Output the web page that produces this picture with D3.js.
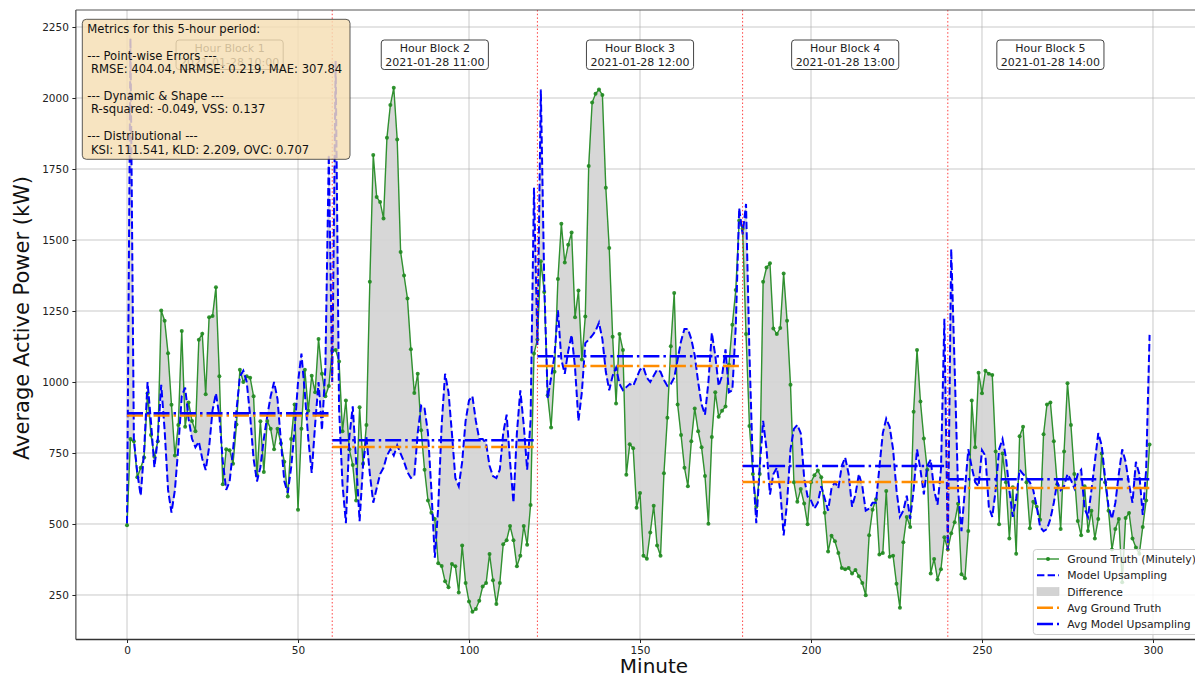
<!DOCTYPE html>
<html><head><meta charset="utf-8">
<script src="https://cdn.jsdelivr.net/npm/d3@7"></script>
<style>
body{margin:0;background:#fff;}
svg{display:block;font-family:"DejaVu Sans",sans-serif;}
</style>
</head><body>
<svg id="chart" width="1195" height="675"></svg>
<script>
// ---------------- data ----------------
const groundTruth = [
496,799,791,665,698,734,960,813,737,791,
1252,1216,1101,920,741,849,1180,842,928,863,
827,1149,1170,957,1228,1232,1334,1020,640,763,
760,712,850,1043,1000,1020,1015,950,672,862,
683,863,835,763,835,784,719,597,799,921,
550,835,1043,899,1022,964,1151,1029,950,986,
1110,1113,1072,827,935,763,708,583,911,712,
849,1353,1799,1651,1634,1576,1860,1975,2036,1854,
1458,1375,1294,1115,961,1029,830,691,583,540,
518,362,352,298,277,359,351,259,424,292,
227,191,201,230,280,292,394,302,218,292,
429,443,493,443,351,388,493,427,567,1100,
1150,1425,1317,953,840,1036,1363,1557,1421,1483,
1526,1228,1322,1079,1231,1761,1984,2015,2030,2011,
1684,1472,1159,924,1169,1113,673,781,767,557,
609,388,378,470,564,424,388,679,874,1126,
1313,921,813,698,633,791,907,827,770,669,
501,806,964,878,899,914,1061,1202,1324,1569,
1540,1169,845,676,561,676,1353,1403,1418,1188,
1169,1190,1382,1216,990,647,578,623,572,499,
647,672,688,665,540,403,459,439,398,345,
341,345,326,338,316,292,249,460,550,587,
393,398,616,385,388,290,205,436,525,489,
895,1113,931,801,691,326,377,305,341,453,
410,467,506,571,323,309,475,935,770,1033,
960,1040,1029,1025,755,499,748,647,449,629,
395,809,842,647,485,578,561,515,816,921,
928,791,640,482,755,996,849,676,511,460,
633,475,547,449,518,748,647,547,410,482,
518,295,521,539,449,417,395,489,583,780
];
const modelUpsampling = [
503,2210,800,680,600,760,1000,860,700,800,
990,830,620,540,620,770,950,980,870,800,
770,790,730,690,770,900,960,880,720,620,
650,760,900,1020,1040,1000,880,730,650,700,
800,880,950,1000,940,790,650,610,700,830,
1000,1100,960,800,680,850,1000,830,1050,1800,
1000,2130,907,640,503,806,914,719,510,705,
806,676,575,626,676,698,741,763,741,777,
748,719,683,662,669,820,917,907,820,619,
381,561,849,1029,964,820,662,633,719,863,
935,950,863,799,799,784,705,669,662,691,
820,885,720,575,820,971,849,691,863,1684,
1130,2030,1350,943,1015,1094,1252,1079,1029,1108,
1166,1051,863,964,1137,1149,1163,1180,1209,1151,
1036,971,1022,1051,993,971,982,993,986,1015,
1043,1051,1015,1000,1022,1043,1036,1007,986,993,
1015,1079,1144,1187,1187,1151,1094,1000,921,885,
1000,1173,1094,986,1022,1115,964,971,1195,1612,
1520,1627,1100,700,503,700,863,763,604,676,
698,620,460,575,763,835,849,820,662,597,
583,554,575,633,590,547,626,647,626,705,
734,676,561,604,676,633,547,554,575,575,
700,820,871,842,763,619,525,547,600,518,
619,763,691,604,705,727,619,568,691,1223,
410,1468,1051,619,475,620,763,700,647,633,
760,740,560,525,620,763,799,734,619,525,
590,691,676,662,647,619,561,489,475,482,
518,575,647,619,633,676,655,626,676,691,
554,525,619,719,820,777,662,561,518,575,
676,763,719,640,575,719,676,532,691,1166
];
const blockStart = [0, 60, 120, 180, 240];
const blockEnd = [60, 120, 180, 240, 300];
const avgGroundTruth = [882, 771, 1056, 648, 627];
const avgModel = [890, 795, 1091, 704, 658];
const blockTitles = ["Hour Block 1","Hour Block 2","Hour Block 3","Hour Block 4","Hour Block 5"];
const blockTimes = ["2021-01-28 10:00","2021-01-28 11:00","2021-01-28 12:00","2021-01-28 13:00","2021-01-28 14:00"];
const hourBoundaries = [60, 120, 180, 240];
const yTickValues = [250, 500, 750, 1000, 1250, 1500, 1750, 2000, 2250];
const xTickValues = [0, 50, 100, 150, 200, 250, 300];
const metricsLines = [
  "Metrics for this 5-hour period:",
  "",
  "--- Point-wise Errors ---",
  " RMSE: 404.04, NRMSE: 0.219, MAE: 307.84",
  "",
  "--- Dynamic & Shape ---",
  " R-squared: -0.049, VSS: 0.137",
  "",
  "--- Distributional ---",
  " KSI: 111.541, KLD: 2.209, OVC: 0.707"
];
const legendLabels = ["Ground Truth (Minutely)","Model Upsampling","Difference","Avg Ground Truth","Avg Model Upsampling"];

// ---------------- setup ----------------
const svg = d3.select("#chart");
const L = 75.9, R = 1200.7, T = 10, B = 639.5;
const x = d3.scaleLinear().domain([-14.95, 313.95]).range([L, R]);
const y = d3.scaleLinear().domain([93.3, 2309.9]).range([B, T]);
const idx = groundTruth.map((_, i) => i);

svg.append("defs").append("clipPath").attr("id","plotclip")
  .append("rect").attr("x",L).attr("y",T).attr("width",R-L).attr("height",B-T);

// grid
const grid = svg.append("g");
grid.selectAll("line.gx").data(xTickValues).join("line")
  .attr("x1",d=>x(d)).attr("x2",d=>x(d)).attr("y1",T).attr("y2",B)
  .attr("stroke","#b0b0b0").attr("stroke-width",0.9).attr("opacity",0.75);
grid.selectAll("line.gy").data(yTickValues).join("line")
  .attr("x1",L).attr("x2",R).attr("y1",d=>y(d)).attr("y2",d=>y(d))
  .attr("stroke","#b0b0b0").attr("stroke-width",0.9).attr("opacity",0.75);

const plot = svg.append("g").attr("clip-path","url(#plotclip)");

// difference area
const area = d3.area().x(i=>x(i)).y0(i=>y(modelUpsampling[i])).y1(i=>y(groundTruth[i]));
plot.append("path").datum(idx).attr("d",area)
  .attr("fill","#d3d3d3").attr("fill-opacity",0.9)
  .attr("stroke","#c4c4c4").attr("stroke-width",0.5);

// ground truth
const lineGT = d3.line().x(i=>x(i)).y(i=>y(groundTruth[i]));
plot.append("path").datum(idx).attr("d",lineGT)
  .attr("fill","none").attr("stroke","#228B22").attr("stroke-width",1.4).attr("opacity",0.92);
plot.selectAll("circle.gt").data(idx).join("circle")
  .attr("cx",i=>x(i)).attr("cy",i=>y(groundTruth[i])).attr("r",2)
  .attr("fill","#228B22").attr("opacity",0.92);

// model
const lineM = d3.line().x(i=>x(i)).y(i=>y(modelUpsampling[i]));
plot.append("path").datum(idx).attr("d",lineM)
  .attr("fill","none").attr("stroke","#0000ff").attr("stroke-width",2)
  .attr("stroke-dasharray","7.4,3.2");

// averages
const dashdot = "16,4,2.5,4";
blockStart.forEach((s, k) => {
  plot.append("line").attr("x1",x(s)).attr("x2",x(blockEnd[k]))
    .attr("y1",y(avgGroundTruth[k])).attr("y2",y(avgGroundTruth[k]))
    .attr("stroke","#ff8c00").attr("stroke-width",2.5).attr("stroke-dasharray",dashdot);
  plot.append("line").attr("x1",x(s)).attr("x2",x(blockEnd[k]))
    .attr("y1",y(avgModel[k])).attr("y2",y(avgModel[k]))
    .attr("stroke","#0000ff").attr("stroke-width",2.5).attr("stroke-dasharray",dashdot);
});

// hour boundaries
plot.selectAll("line.vb").data(hourBoundaries).join("line")
  .attr("x1",d=>x(d)).attr("x2",d=>x(d)).attr("y1",T).attr("y2",B)
  .attr("stroke","red").attr("stroke-width",1).attr("opacity",0.75)
  .attr("stroke-dasharray","1.5,2.2");

// axes
const yAxis = d3.axisLeft(y).tickValues(yTickValues).tickFormat(d3.format("d"))
  .tickSize(3.5).tickSizeOuter(0).tickPadding(3.5);
const gy = svg.append("g").attr("transform",`translate(${L},0)`).call(yAxis);
const xAxis = d3.axisBottom(x).tickValues(xTickValues).tickFormat(d3.format("d"))
  .tickSize(3.5).tickSizeOuter(0).tickPadding(3.5);
const gx = svg.append("g").attr("transform",`translate(0,${B})`).call(xAxis);
[gx, gy].forEach(g => {
  g.selectAll("text").attr("font-size","10.5px").attr("fill","#222").attr("font-family","DejaVu Sans");
  g.selectAll(".tick line").attr("stroke","#222");
  g.select(".domain").attr("stroke","none");
});
// spines
svg.append("line").attr("x1",L).attr("x2",L).attr("y1",T).attr("y2",B).attr("stroke","#222").attr("stroke-width",1);
svg.append("line").attr("x1",L).attr("x2",R).attr("y1",B).attr("y2",B).attr("stroke","#333").attr("stroke-width",1.6);
svg.append("line").attr("x1",L).attr("x2",R).attr("y1",T).attr("y2",T).attr("stroke","#555").attr("stroke-width",1);
svg.append("line").attr("x1",R).attr("x2",R).attr("y1",T).attr("y2",B).attr("stroke","#222").attr("stroke-width",1);

// axis labels
svg.append("text").attr("x",654).attr("y",673).attr("text-anchor","middle")
  .attr("font-size","20px").attr("fill","#111").text("Minute");
svg.append("text").attr("transform","translate(29,318) rotate(-90)").attr("text-anchor","middle")
  .attr("font-size","21px").attr("fill","#111").text("Average Active Power (kW)");

// hour block labels
blockStart.forEach((s, k) => {
  const cx = x(s + 30);
  const g = svg.append("g");
  const t1 = g.append("text").attr("x",cx).attr("y",52).attr("text-anchor","middle")
    .attr("font-size","11px").attr("fill","#222").text(blockTitles[k]);
  const t2 = g.append("text").attr("x",cx).attr("y",65.5).attr("text-anchor","middle")
    .attr("font-size","11px").attr("fill","#222").text(blockTimes[k]);
  const w = Math.max(t1.node().getComputedTextLength(), t2.node().getComputedTextLength()) + 8;
  g.insert("rect","text").attr("x",cx - w/2).attr("y",40).attr("width",w).attr("height",29.5)
    .attr("rx",3).attr("fill","white").attr("stroke","#444").attr("stroke-width",1);
});

// metrics box
const mb = svg.append("g");
mb.append("rect").attr("x",82.3).attr("y",19.3).attr("width",267.7).attr("height",140)
  .attr("rx",4).attr("fill","#f5deb3").attr("fill-opacity",0.82)
  .attr("stroke","#333").attr("stroke-opacity",0.8).attr("stroke-width",1);
metricsLines.forEach((s, i) => {
  if (!s) return;
  mb.append("text").attr("x",87.3).attr("y",29 + 13.37*i + 4.2)
    .attr("font-size","11.6px").attr("fill","#111").style("white-space","pre").text(s);
});

// legend
const lg = svg.append("g");
lg.append("rect").attr("x",1033.3).attr("y",549.5).attr("width",172).attr("height",85)
  .attr("rx",3).attr("fill","white").attr("fill-opacity",0.8).attr("stroke","#ccc").attr("stroke-width",1);
const ly = [559, 575.3, 591.6, 607.8, 624];
const hx1 = 1037, hx2 = 1059;
lg.append("line").attr("x1",hx1).attr("x2",hx2).attr("y1",ly[0]).attr("y2",ly[0])
  .attr("stroke","#228B22").attr("stroke-width",1.3);
lg.append("circle").attr("cx",(hx1+hx2)/2).attr("cy",ly[0]).attr("r",2).attr("fill","#228B22");
lg.append("line").attr("x1",hx1).attr("x2",hx2).attr("y1",ly[1]).attr("y2",ly[1])
  .attr("stroke","#0000ff").attr("stroke-width",2).attr("stroke-dasharray","7.4,3.2");
lg.append("rect").attr("x",hx1).attr("y",ly[2]-4).attr("width",hx2-hx1).attr("height",8)
  .attr("fill","#d3d3d3").attr("stroke","#c4c4c4").attr("stroke-width",0.5);
lg.append("line").attr("x1",hx1).attr("x2",hx2).attr("y1",ly[3]).attr("y2",ly[3])
  .attr("stroke","#ff8c00").attr("stroke-width",2.5).attr("stroke-dasharray",dashdot);
lg.append("line").attr("x1",hx1).attr("x2",hx2).attr("y1",ly[4]).attr("y2",ly[4])
  .attr("stroke","#0000ff").attr("stroke-width",2.5).attr("stroke-dasharray",dashdot);
legendLabels.forEach((s, i) => {
  lg.append("text").attr("x",1067.3).attr("y",ly[i]+4).attr("font-size","10.8px")
    .attr("fill","#222").text(s);
});
</script>
</body></html>
